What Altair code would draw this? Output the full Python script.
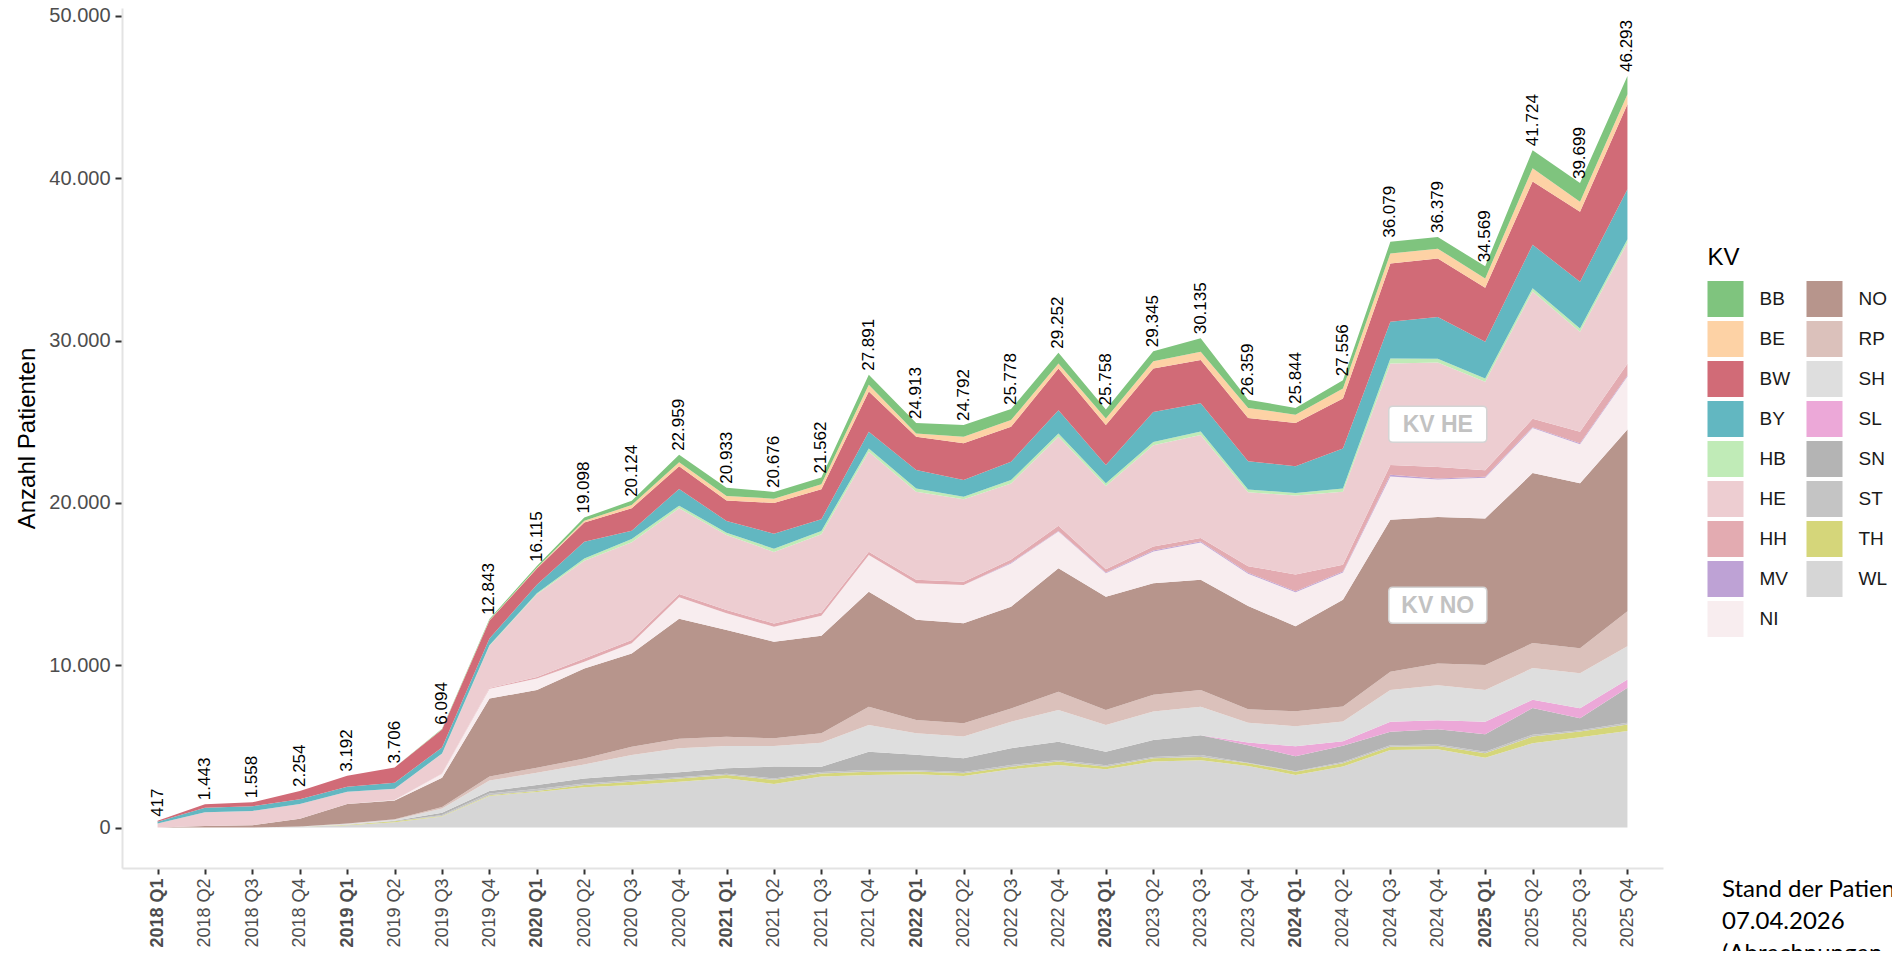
import altair as alt
import pandas as pd

quarters = [
    "2018 Q1", "2018 Q2", "2018 Q3", "2018 Q4",
    "2019 Q1", "2019 Q2", "2019 Q3", "2019 Q4",
    "2020 Q1", "2020 Q2", "2020 Q3", "2020 Q4",
    "2021 Q1", "2021 Q2", "2021 Q3", "2021 Q4",
    "2022 Q1", "2022 Q2", "2022 Q3", "2022 Q4",
    "2023 Q1", "2023 Q2", "2023 Q3", "2023 Q4",
    "2024 Q1", "2024 Q2", "2024 Q3", "2024 Q4",
    "2025 Q1", "2025 Q2", "2025 Q3", "2025 Q4",
]

totals = [417, 1443, 1558, 2254, 3192, 3706, 6094, 12843,
          16115, 19098, 20124, 22959, 20933, 20676, 21562, 27891,
          24913, 24792, 25778, 29252, 25758, 29345, 30135, 26359,
          25844, 27556, 36079, 36379, 34569, 41724, 39699, 46293]

# stacking order, bottom -> top
stack_order = ["WL", "TH", "ST", "SN", "SL", "SH", "RP", "NO", "NI",
               "MV", "HH", "HE", "HB", "BY", "BW", "BE", "BB"]

WL = [0, 0, 0, 50, 150, 330, 680, 1950, 2200, 2480, 2630, 2830, 3040, 2690, 3140, 3240,
      3285, 3180, 3590, 3860, 3588, 4065, 4150, 3800, 3240, 3760, 4780, 4825, 4310, 5195, 5565, 5943]
TH = [0, 0, 0, 0, 30, 60, 40, 50, 60, 140, 200, 200, 200, 250, 200, 205,
      165, 165, 165, 205, 165, 205, 200, 165, 205, 205, 205, 205, 265, 410, 350, 410]
ST = [0, 0, 0, 0, 0, 0, 60, 100, 120, 100, 80, 74, 80, 80, 80, 100,
      80, 80, 98, 100, 80, 80, 115, 34, 29, 80, 80, 89, 100, 120, 80, 100]
SN = [0, 0, 0, 0, 0, 30, 140, 150, 250, 310, 330, 310, 330, 740, 330, 1130,
      950, 845, 1030, 1130, 845, 1050, 1230, 1070, 925, 996, 845, 945, 1070, 1640, 740, 2155]
SL = [0, 0, 0, 0, 0, 0, 0, 0, 0, 0, 0, 0, 0, 0, 0, 0,
      0, 0, 0, 0, 0, 0, 0, 165, 615, 270, 615, 555, 780, 510, 615, 510]
SH = [0, 0, 0, 20, 50, 60, 250, 650, 750, 860, 1230, 1480, 1375, 1270, 1480, 1640,
      1335, 1335, 1640, 1950, 1640, 1745, 1745, 1230, 1230, 1230, 1950, 2155, 1950, 1950, 2155, 2050]
RP = [0, 0, 0, 0, 30, 40, 100, 250, 300, 370, 510, 575, 575, 470, 575, 1130,
      820, 820, 820, 1130, 925, 1030, 1030, 820, 925, 925, 1130, 1330, 1540, 1540, 1540, 2155]
NO = [10, 100, 150, 480, 1200, 1150, 1800, 4800, 4800, 5540, 5750, 7390, 6570, 5950, 6017, 7080,
      6160, 6160, 6260, 7600, 6980, 6880, 6795, 6360, 5235, 6570, 9350, 9030, 9030, 10470, 10160, 11190]
NI = [0, 0, 0, 0, 0, 30, 250, 600, 700, 410, 620, 1330, 1030, 920, 1230, 2260,
      2260, 2360, 2670, 2260, 1440, 1950, 2300, 1990, 2095, 1680, 2670, 2300, 2500, 2770, 2400, 3270]
MV = [0, 0, 0, 0, 0, 0, 0, 0, 0, 0, 0, 0, 0, 0, 0, 0,
      0, 0, 40, 40, 50, 60, 60, 60, 60, 60, 100, 60, 60, 60, 60, 60]
HH = [0, 0, 0, 0, 0, 0, 20, 50, 100, 200, 200, 200, 200, 200, 200, 200,
      205, 205, 205, 310, 205, 245, 205, 410, 1030, 410, 615, 720, 410, 510, 720, 720]
HE = [240, 850, 880, 900, 750, 700, 1210, 2600, 5100, 6028, 6029, 5280, 4623, 4410, 4820, 6170,
      5430, 5070, 4680, 5485, 5120, 6240, 6355, 4550, 4860, 4500, 6250, 6425, 5445, 7845, 6155, 7465]
HB = [0, 0, 0, 0, 0, 0, 10, 30, 60, 140, 200, 160, 140, 200, 200, 200,
      200, 165, 205, 200, 165, 200, 205, 165, 165, 205, 310, 245, 205, 205, 205, 205]
BY = [110, 270, 280, 300, 300, 370, 370, 420, 520, 1030, 510, 1030, 720, 920, 720, 1030,
      1130, 1030, 1130, 1440, 1130, 1850, 1745, 1745, 1640, 2460, 2260, 2570, 2260, 2670, 2875, 3080]
BW = [57, 223, 248, 504, 682, 936, 1105, 1100, 1000, 1190, 1375, 1400, 1270, 1890, 1850, 2481,
      2050, 2260, 2155, 2570, 2460, 2670, 2670, 2670, 2670, 3080, 3590, 3590, 3325, 3900, 4310, 5235]
BE = [0, 0, 0, 0, 0, 0, 19, 30, 40, 100, 200, 250, 270, 270, 310, 410,
      205, 400, 410, 310, 410, 460, 510, 615, 510, 615, 615, 615, 575, 820, 615, 615]
BB = [0, 0, 0, 0, 0, 0, 40, 63, 115, 200, 260, 450, 510, 416, 410, 615,
      638, 717, 680, 662, 555, 615, 820, 510, 410, 510, 714, 720, 744, 1109, 1154, 1130]

series = {"WL": WL, "TH": TH, "ST": ST, "SN": SN, "SL": SL, "SH": SH, "RP": RP,
          "NO": NO, "NI": NI, "MV": MV, "HH": HH, "HE": HE, "HB": HB, "BY": BY,
          "BW": BW, "BE": BE, "BB": BB}

legend_order = ["BB", "BE", "BW", "BY", "HB", "HE", "HH", "MV", "NI",
                "NO", "RP", "SH", "SL", "SN", "ST", "TH", "WL"]
kv_colors = {"BB": "#7FC47E", "BE": "#FDD2A5", "BW": "#D16B77", "BY": "#62B7C1",
             "HB": "#C0EBB7", "HE": "#EDCDD1", "HH": "#E3ABB1", "MV": "#BEA2D5",
             "NI": "#F8EDEF", "NO": "#B7958C", "RP": "#DBC1BB", "SH": "#DEDEDE",
             "SL": "#ECA8D8", "SN": "#B4B4B4", "ST": "#C4C4C4", "TH": "#D5D67A",
             "WL": "#D6D6D6"}
legend_colors = [kv_colors[k] for k in legend_order]

ann_labels = ["KV HE", "KV NO"]
ann_quarter = ["2024 Q4", "2024 Q4"]
ann_value = [24850, 13700]

caption_lines = ["Stand der Patientenzahlen:", "07.04.2026", "(Abrechnungen, vorläufig)"]

# consistency check
bad = []
for i, q in enumerate(quarters):
    s = sum(series[k][i] for k in stack_order)
    if s != totals[i]:
        bad.append((q, s, totals[i]))
if bad:
    raise ValueError(f"sum mismatch: {bad}")

rows = []
for idx, code in enumerate(stack_order):
    for q, v in zip(quarters, series[code]):
        rows.append({"quarter": q, "kv": code, "value": v, "stack": idx})
df = pd.DataFrame(rows)

tot_df = pd.DataFrame({
    "quarter": quarters,
    "total": totals,
    "label": [f"{t:,}".replace(",", ".") for t in totals],
})
ann_df = pd.DataFrame({"quarter": ann_quarter, "value": ann_value, "label": ann_labels})
cap_df = pd.DataFrame({"t": ["\n".join(caption_lines)]})

FONT = "Liberation Sans"

x_enc = alt.X(
    "quarter:N", sort=quarters, title=None,
    scale=alt.Scale(type="point", padding=0.75),
    axis=alt.Axis(
        labelAngle=270, labelAlign="right", labelBaseline="middle",
        labelFont=FONT, labelFontSize=18, labelColor="#4D4D4D",
        labelFontWeight={"condition": {"test": "indexof(datum.label, 'Q1') >= 0", "value": "bold"},
                         "value": "normal"},
        labelOverlap=False, labelPadding=4,
        tickSize=6, tickWidth=2, tickColor="#333333",
        domainColor="#E3E3E3", domainWidth=2, grid=False,
    ),
)

y_scale = alt.Scale(domain=[-2488, 50480], nice=False, zero=False)
y_axis = alt.Axis(
    values=[0, 10000, 20000, 30000, 40000, 50000],
    labelExpr="replace(format(datum.value, ',d'), ',', '.')",
    labelFont=FONT, labelFontSize=20, labelColor="#4D4D4D", labelPadding=5,
    tickSize=7, tickWidth=2, tickColor="#333333",
    domainColor="#E3E3E3", domainWidth=2, grid=False,
    title="Anzahl Patienten", titleFont=FONT, titleFontSize=24,
    titleFontWeight="normal", titleColor="#000000", titlePadding=9,
)

area = alt.Chart(df).mark_area(interpolate="linear", opacity=1).encode(
    x=x_enc,
    y=alt.Y("value:Q", stack="zero", scale=y_scale, axis=y_axis),
    color=alt.Color(
        "kv:N",
        scale=alt.Scale(domain=legend_order, range=legend_colors),
        legend=alt.Legend(
            title="KV", orient="none", legendX=1585.5, legendY=238,
            columns=2, padding=0, titleFont=FONT, titleFontSize=24,
            titleFontWeight="normal", titleColor="#000000", titlePadding=11,
            titleAnchor="start",
            labelFont=FONT, labelFontSize=19, labelColor="#1A1A1A",
            symbolType="square", symbolSize=1296, symbolStrokeWidth=0,
            symbolOpacity=1, rowPadding=4, columnPadding=16, labelOffset=16,
        ),
    ),
    order=alt.Order("stack:Q", sort="ascending"),
)

labels = alt.Chart(tot_df).mark_text(
    angle=270, align="left", baseline="middle", dx=4,
    font=FONT, fontSize=17, color="#000000",
).encode(
    x=x_enc,
    y=alt.Y("total:Q", scale=y_scale, axis=y_axis),
    text="label:N",
)

BOX = ("M-0.9,-0.36 L0.9,-0.36 Q0.98,-0.36 0.98,-0.28 L0.98,0.28 Q0.98,0.36 0.9,0.36 "
       "L-0.9,0.36 Q-0.98,0.36 -0.98,0.28 L-0.98,-0.28 Q-0.98,-0.36 -0.9,-0.36 Z")

box = alt.Chart(ann_df).mark_point(
    shape=BOX, size=10000, filled=True, fill="#FFFFFF", stroke="#D4D4D4",
    strokeWidth=1.5, opacity=1, fillOpacity=1, strokeOpacity=1,
).encode(
    x=x_enc,
    y=alt.Y("value:Q", scale=y_scale, axis=y_axis),
)

ann_text = alt.Chart(ann_df).mark_text(
    font=FONT, fontSize=23, fontWeight="bold", color="#C2C2C2", baseline="middle", dy=1,
).encode(
    x=x_enc,
    y=alt.Y("value:Q", scale=y_scale, axis=y_axis),
    text="label:N",
)

caption = alt.Chart(cap_df).mark_text(
    font="Lato", fontSize=24, color="#000000", align="left", baseline="alphabetic",
    lineBreak="\n", lineHeight=32,
).encode(
    x=alt.value(1600),
    y=alt.value(889),
    text="t:N",
)

chart = alt.layer(area, labels, box, ann_text, caption).properties(
    width=1541, height=860,
    padding={"left": 114, "top": 0, "right": 229, "bottom": 83},
    autosize=alt.AutoSizeParams(type="none"),
).configure(font=FONT).configure_view(stroke=None)

chart.save("out.html", embed_options={"renderer": "svg", "actions": False})
